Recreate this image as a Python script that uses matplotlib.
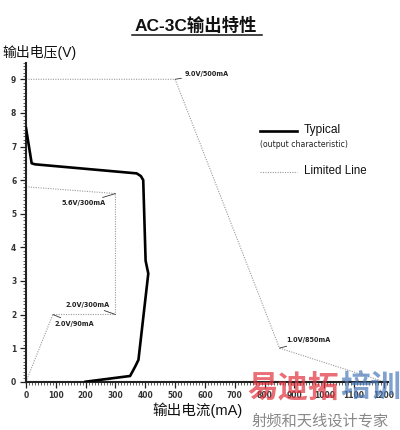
import matplotlib
matplotlib.use("Agg")
import matplotlib.pyplot as plt
from matplotlib.ticker import MultipleLocator

CJK = ["Noto Sans CJK SC", "DejaVu Sans"]
plt.rcParams.update({"font.family": CJK, "axes.unicode_minus": False})

# typical output characteristic (mA, V)
typ_i = [0, 19, 30, 371, 385, 393, 401, 410, 377, 366, 349, 200]
typ_v = [7.55, 6.5, 6.47, 6.2, 6.12, 6.0, 3.6, 3.22, 0.65, 0.45, 0.17, 0.0]

# limited lines
lim_in_i = [0, 300, 300, 90, 0]
lim_in_v = [5.8, 5.6, 2.0, 2.0, 0.0]
lim_out_i = [0, 500, 850, 1200]
lim_out_v = [9.0, 9.0, 1.0, 0.0]

# corner labels: (current, voltage, text, offset in points, ha)
corners = [
    (500, 9.0, "9.0V/500mA", (6.5, 3.8), "left"),
    (300, 5.6, "5.6V/300mA", (-7, -7), "right"),
    (300, 2.0, "2.0V/300mA", (-4, 7), "right"),
    (90, 2.0, "2.0V/90mA", (1.5, -6.5), "left"),
    (850, 1.0, "1.0V/850mA", (5, 5.5), "left"),
]

W, H = 400, 430
fig = plt.figure(figsize=(W / 100, H / 100), dpi=100)
ax = fig.add_axes([26 / W, 1 - 381.7 / H, 362.4 / W, 319.2 / H])


def px(x, y):
    return x / W, 1 - y / H


GRAY = "#9a9a9a"
ax.plot(lim_in_i, lim_in_v, color=GRAY, lw=0.8, ls=(0, (1, 1.2)), zorder=2)
ax.plot(lim_out_i, lim_out_v, color=GRAY, lw=0.8, ls=(0, (1, 1.2)), zorder=2)
ax.plot(typ_i, typ_v, color="black", lw=1.9, solid_joinstyle="round", zorder=3)

for ci, cv, txt, off, ha in corners:
    ax.annotate(txt, (ci, cv), xytext=off, textcoords="offset points",
                ha=ha, va="center", fontsize=5.2, color="#222",
                family="DejaVu Sans", fontstretch="condensed", fontweight="bold",
                arrowprops=dict(arrowstyle="-", color="#333", lw=0.6,
                                shrinkA=0, shrinkB=0))

ax.set_xlim(0, 1215)
ax.set_ylim(0, 9.5)
ax.xaxis.set_major_locator(MultipleLocator(100))
ax.xaxis.set_minor_locator(MultipleLocator(10))
ax.yaxis.set_major_locator(MultipleLocator(1))
ax.yaxis.set_minor_locator(MultipleLocator(0.1))
ax.set_xticks(range(0, 1201, 100))
ax.set_yticks(range(0, 10))
for s in ("top", "right"):
    ax.spines[s].set_visible(False)
for s in ("left", "bottom"):
    ax.spines[s].set_linewidth(1.5)
    ax.spines[s].set_color("#222")
ax.tick_params(which="major", length=4, width=0.9, colors="#222", pad=3)
ax.tick_params(which="minor", length=2.2, width=0.6, colors="#444")
for lab in ax.get_xticklabels() + ax.get_yticklabels():
    lab.set_family("DejaVu Sans")
    lab.set_fontstretch("condensed")
    lab.set_fontweight("bold")
    lab.set_fontsize(6)
    lab.set_color("#333")

# title with underline
fig.text(*px(196, 25), "AC-3C输出特性", ha="center", va="center",
         fontsize=12.5, fontweight="bold", family=["Liberation Sans", "Noto Sans CJK SC"],
         color="#111")
fig.add_artist(plt.Line2D([132 / W, 262 / W], [1 - 34.5 / H] * 2, color="#111", lw=1.1))

fig.text(*px(2, 53), "输出电压(V)", ha="left", va="center", fontsize=10,
         family=["Liberation Sans", "Noto Sans CJK SC"], color="#111")
fig.text(*px(197, 410), "输出电流(mA)", ha="center", va="center", fontsize=10.5,
         family=["Liberation Sans", "Noto Sans CJK SC"], color="#111")

# legend
fig.add_artist(plt.Line2D([260 / W, 297 / W], [1 - 130.7 / H] * 2, color="black", lw=1.9))
fig.text(*px(304, 130.5), "Typical", ha="left", va="center", fontsize=8.6,
         family="Liberation Sans", color="#111")
fig.text(*px(260, 144.5), "(output characteristic)", ha="left", va="center",
         fontsize=6.2, family="DejaVu Sans", fontstretch="condensed", color="#222")
fig.add_artist(plt.Line2D([260 / W, 297 / W], [1 - 171.7 / H] * 2, color=GRAY,
                          lw=0.8, ls=(0, (1, 1.2))))
fig.text(*px(304, 171.5), "Limited Line", ha="left", va="center", fontsize=8.3,
         family="Liberation Sans", color="#111")

# watermark (semi-transparent, over the axis as in the source image)
fig.text(*px(247, 388), "易迪拓", ha="left", va="center", fontsize=22, fontweight="bold",
         family=CJK, color="#e0303a", alpha=0.7)
fig.text(*px(340, 388), "培训", ha="left", va="center", fontsize=22, fontweight="bold",
         family=CJK, color="#4a7ab8", alpha=0.7)
fig.text(*px(320, 421), "射频和天线设计专家", ha="center", va="center", fontsize=11,
         family=CJK, color="#888888")

fig.savefig("out.png", dpi=100)
